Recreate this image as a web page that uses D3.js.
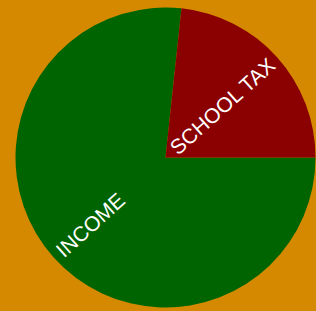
<!DOCTYPE html>
<html>
<head>
<meta charset="utf-8">
<script src="https://cdn.jsdelivr.net/npm/d3@7"></script>
<style>
  html, body { margin: 0; padding: 0; background: #d48900; }
  svg { display: block; }
</style>
</head>
<body>
<div id="chart"></div>
<script>
  var categories = ['INCOME', 'SCHOOL TAX'];
  var values = [76.7, 23.3];
  var colors = ['#006400', '#8b0000'];

  var width = 316, height = 311, radius = 150;
  var cx = 165.5, cy = 157.5;

  var svg = d3.select('#chart').append('svg')
    .attr('width', width).attr('height', height);

  svg.append('rect').attr('width', width).attr('height', height).attr('fill', '#d48900');

  var g = svg.append('g').attr('transform', 'translate(' + cx + ',' + cy + ')');

  var pie = d3.pie().sort(null)
    .startAngle(Math.PI / 2).endAngle(Math.PI / 2 + 2 * Math.PI);
  var arc = d3.arc().innerRadius(0).outerRadius(radius);

  var arcs = pie(values);

  g.selectAll('path').data(arcs).enter().append('path')
    .attr('d', arc)
    .attr('fill', function(d, i) { return colors[i]; });

  // labels run along the radius, outer end near the rim
  var labelR = 143;
  g.selectAll('text').data(arcs).enter().append('text')
    .attr('transform', function(d) {
      var mid = (d.startAngle + d.endAngle) / 2;
      var x = Math.sin(mid) * labelR, y = -Math.cos(mid) * labelR;
      var deg = mid * 180 / Math.PI - 90;
      deg = ((deg % 360) + 360) % 360;
      if (deg > 90 && deg < 270) deg -= 180;
      return 'translate(' + x + ',' + y + ')rotate(' + deg + ')';
    })
    .attr('text-anchor', function(d) {
      var mid = ((d.startAngle + d.endAngle) / 2) % (2 * Math.PI);
      return mid > Math.PI ? 'start' : 'end';
    })
    .attr('dy', '0.35em')
    .attr('fill', '#fff')
    .attr('font-family', 'Liberation Sans, Arial, sans-serif')
    .attr('font-size', 21)
    .text(function(d, i) { return categories[i]; });
</script>
</body>
</html>
